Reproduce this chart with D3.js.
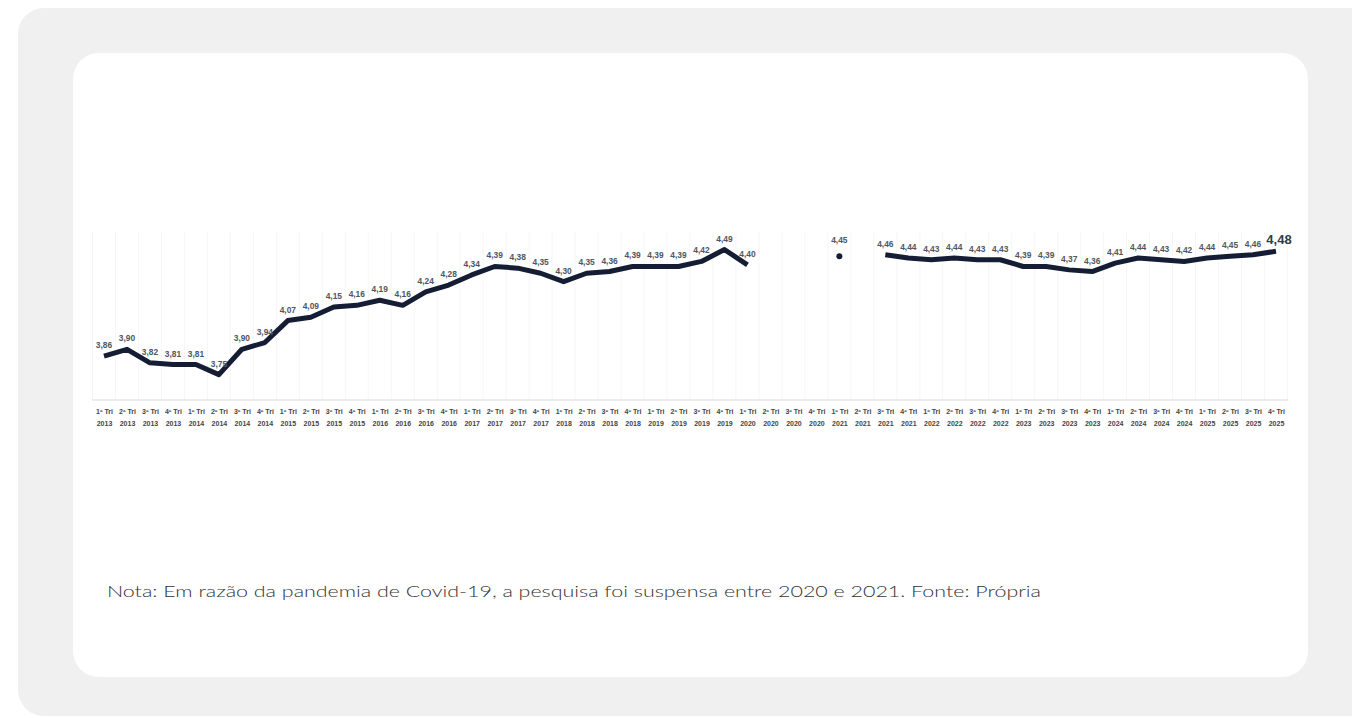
<!DOCTYPE html>
<html>
<head>
<meta charset="utf-8">
<script src="https://cdn.jsdelivr.net/npm/d3@7"></script>
<style>
  html, body { margin: 0; padding: 0; background: #ffffff; }
  svg { display: block; }
</style>
</head>
<body>
<svg id="chart" width="1352" height="718"></svg>
<script>
// ---- Data ----
const quarters = ["1º Tri","2º Tri","3º Tri","4º Tri"];
const years = [2013,2014,2015,2016,2017,2018,2019,2020,2021,2022,2023,2024,2025];
const values = [
  3.86, 3.90, 3.82, 3.81,
  3.81, 3.75, 3.90, 3.94,
  4.07, 4.09, 4.15, 4.16,
  4.19, 4.16, 4.24, 4.28,
  4.34, 4.39, 4.38, 4.35,
  4.30, 4.35, 4.36, 4.39,
  4.39, 4.39, 4.42, 4.49,
  4.40, null, null, null,
  4.45, null, 4.46, 4.44,
  4.43, 4.44, 4.43, 4.43,
  4.39, 4.39, 4.37, 4.36,
  4.41, 4.44, 4.43, 4.42,
  4.44, 4.45, 4.46, 4.48
];
const yDomain = [3.6, 4.6];
const footnote = "Nota: Em razão da pandemia de Covid-19, a pesquisa foi suspensa entre 2020 e 2021. Fonte: Própria";

const categories = [];
years.forEach(y => quarters.forEach(q => categories.push({q, y, key: q + " " + y})));
const data = categories.map((c, i) => ({...c, i, v: values[i]}));

// ---- Layout ----
const svg = d3.select("#chart");
svg.append("rect").attr("x", 18).attr("y", 8).attr("width", 1380).attr("height", 708)
  .attr("rx", 26).attr("fill", "#f0f0f0");
svg.append("rect").attr("x", 73).attr("y", 53).attr("width", 1235).attr("height", 624)
  .attr("rx", 26).attr("fill", "#ffffff");

const x = d3.scalePoint().domain(data.map(d => d.key)).range([104, 1276]);
const y = d3.scaleLinear().domain(yDomain).range([400, 231]);
const step = x.step();

// faint vertical gridlines between categories
const g = svg.append("g");
g.selectAll("line.grid").data(data.concat([{key: null}])).enter().append("line")
  .attr("class", "grid")
  .attr("x1", (d, i) => 104 - step / 2 + i * step)
  .attr("x2", (d, i) => 104 - step / 2 + i * step)
  .attr("y1", y(4.6)).attr("y2", y(3.6))
  .attr("stroke", "#f6f6f6").attr("stroke-width", 1);

// baseline axis
g.append("line").attr("x1", 92).attr("x2", 1288).attr("y1", y(3.6)).attr("y2", y(3.6))
  .attr("stroke", "#e6e6e6").attr("stroke-width", 1.5);

// x axis labels
const xAxis = g.append("g").attr("transform", `translate(0, ${y(3.6)})`)
  .call(d3.axisBottom(x).tickSize(0).tickFormat(() => ""));
xAxis.select(".domain").remove();
xAxis.selectAll(".tick text").remove();
xAxis.selectAll(".tick").each(function(k, i) {
  const d = data[i];
  const t = d3.select(this).append("text")
    .attr("text-anchor", "middle")
    .attr("font-family", "'Liberation Sans', Arial, sans-serif")
    .attr("font-weight", "bold")
    .attr("font-size", 7)
    .attr("fill", "#454545");
  t.append("tspan").attr("x", 0).attr("y", 14).text(d.q);
  t.append("tspan").attr("x", 0).attr("y", 26).text(d.y);
});

// line
const line = d3.line()
  .defined(d => d.v != null)
  .x(d => x(d.key)).y(d => y(d.v))
  .curve(d3.curveLinear);
g.append("path").datum(data)
  .attr("d", line)
  .attr("fill", "none")
  .attr("stroke", "#141d33")
  .attr("stroke-width", 5)
  .attr("stroke-linejoin", "round");

// isolated points (no neighbours)
const isolated = data.filter((d, i) => d.v != null &&
  (i === 0 || data[i - 1].v == null) && (i === data.length - 1 || data[i + 1].v == null));
g.selectAll("circle.iso").data(isolated).enter().append("circle")
  .attr("cx", d => x(d.key)).attr("cy", d => y(d.v)).attr("r", 3)
  .attr("fill", "#141d33");

// data labels
const fmt = v => v.toFixed(2).replace(".", ",");
const last = data.length - 1;
g.selectAll("text.lbl").data(data.filter(d => d.v != null)).enter().append("text")
  .attr("class", "lbl")
  .attr("x", d => d.i === last ? x(d.key) + 3 : x(d.key))
  .attr("y", d => d.i === last ? y(d.v) - 7 : (d.i === 32 ? y(d.v) - 13 : y(d.v) - 8))
  .attr("text-anchor", "middle")
  .attr("font-family", "'Liberation Sans', Arial, sans-serif")
  .attr("font-weight", "bold")
  .attr("font-size", d => d.i === last ? 13 : 8.4)
  .attr("fill", d => d.i === last ? "#333a48" : "#505660")
  .text(d => fmt(d.v));

// footnote
svg.append("text").attr("x", 107).attr("y", 597)
  .attr("font-family", "Lato, 'Open Sans', sans-serif")
  .attr("font-weight", 300)
  .attr("font-size", 16)
  .attr("fill", "#333333")
  .attr("textLength", 934)
  .attr("lengthAdjust", "spacingAndGlyphs")
  .text(footnote);
</script>
</body>
</html>
